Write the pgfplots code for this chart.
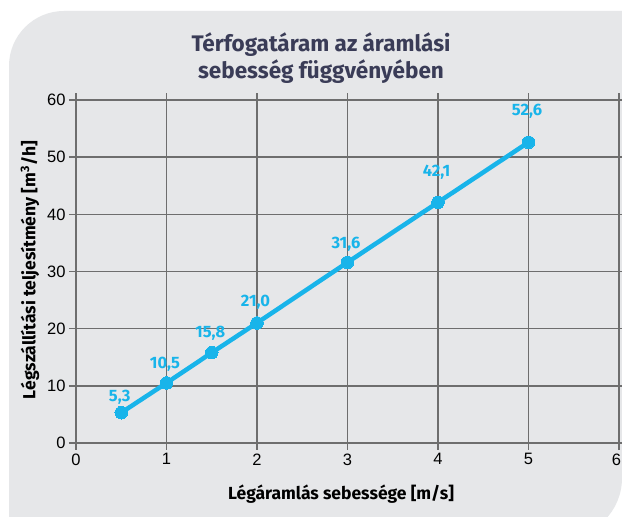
\documentclass[border=0pt]{standalone}
\usepackage{fontspec}
\setmainfont{Fira Sans}
\newfontfamily\arial{Liberation Sans}
\usepackage{pgfplots}
\pgfplotsset{compat=1.18}
\definecolor{panel}{HTML}{E6E7E9}
\definecolor{gridc}{HTML}{6E6E6E}
\definecolor{cyanl}{HTML}{18B4EA}
\definecolor{titlec}{HTML}{3A3C57}
\pgfplotstableread{
x y label off
0.5 5.3 5,3 15.1
1 10.5 10,5 19.1
1.5 15.8 15,8 19.5
2 21.0 21,0 20.2
3 31.6 31,6 18.5
4 42.1 42,1 30.2
5 52.6 52,6 31.2
}\flowdata
\begin{document}
\begin{tikzpicture}[x=1pt,y=1pt]
\path[use as bounding box] (0,0) rectangle (622,517);
\fill[white] (0,0) rectangle (622,517);
\fill[panel] (9,-25) -- (9,451) arc[start angle=180,end angle=90,radius=55] -- (622,506) -- (622,39) arc[start angle=0,end angle=-90,radius=60] -- (9,-21) -- cycle;
\begin{axis}[
  at={(76pt,74pt)}, anchor=origin,
  scale only axis, width=543pt, height=343pt,
  xmin=0, xmax=6, ymin=0, ymax=60,
  xtick={0,1,2,3,4,5,6}, ytick={0,10,20,30,40,50,60},
  xticklabels={0,1,2,3,4,5,{\makebox[9pt][c]{\hspace{-5pt}6}}},
  grid=major,
  grid style={gridc, line width=1.4pt},
  axis line style={gridc, line width=1.4pt},
  tick style={gridc, line width=1.4pt},
  tick align=outside, major tick length=7pt,
  /pgf/number format/assume math mode=true,
  tick label style={font=\arial\fontsize{16.5}{16.5}\selectfont, text=black},
  clip=false,
]
\addplot[cyanl, line width=4.5pt, mark=*, mark size=6.3pt,
  mark options={fill=cyanl, draw=cyanl, line width=0pt},
  nodes near coords, point meta=explicit symbolic,
  visualization depends on={\thisrow{off} \as \myoff},
  every node near coord/.style={font=\bfseries\fontsize{16.5}{16.5}\selectfont, text=cyanl, anchor=center, yshift=\myoff pt, xshift=-1.5pt}]
  table[x=x, y=y, meta=label] {\flowdata};
\end{axis}
\node[font=\bfseries\fontsize{22.5}{27}\selectfont, text=titlec, align=center] at (321,458.5) {Térfogatáram az áramlási\\sebesség függvényében};
\node[font=\bfseries\fontsize{17.5}{17.5}\selectfont] at (341,23) {Légáramlás sebessége [m/s]};
\node[font=\bfseries\fontsize{17.5}{17.5}\selectfont, rotate=90] at (30,247) {Légszállítási teljesítmény [m\textsuperscript{3}/h]};
\end{tikzpicture}
\end{document}
